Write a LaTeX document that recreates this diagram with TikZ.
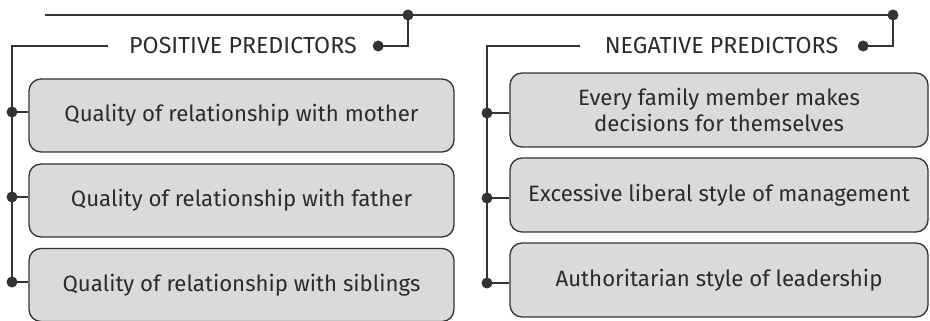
\documentclass[tikz,border=0pt]{standalone}
\usepackage{fontspec}
\setmainfont{Fira Sans}
\definecolor{linec}{HTML}{333333}
\definecolor{boxfill}{HTML}{D9DADC}
\definecolor{txt}{HTML}{2B2B2B}
\begin{document}
\begin{tikzpicture}[x=1pt,y=-1pt,
  conn/.style={draw=linec, line width=1.3pt},
  dotc/.style={circle, fill=linec, inner sep=0pt, minimum size=11pt},
  box/.style={draw=linec, fill=boxfill, rounded corners=12pt, line width=1.3pt,
    minimum height=73pt, align=center, text=txt, inner sep=0pt,
    font=\fontsize{22.2}{26}\selectfont},
  lbl/.style={text=txt, inner sep=0pt, font=\fontsize{23.2}{27}\selectfont}]
\useasboundingbox (0,0) rectangle (930,321);

% headings
\node[lbl, minimum width=270pt] (pos) at (243,46) {POSITIVE PREDICTORS};
\node[lbl, minimum width=283pt] (neg) at (721.5,46) {NEGATIVE PREDICTORS};

% top line
\coordinate (ts) at (45,15);
\node[dotc] (td1) at (408,15) {};
\node[dotc] (td2) at (893,15) {};
\node[dotc] (pd) at (pos.east) {};
\node[dotc] (nd) at (neg.east) {};

% boxes
\node[box, minimum width=425pt] (b1) at (241.5,115.5) {Quality of relationship with mother};
\node[box, minimum width=425pt] (b2) at (241.5,200.5) {Quality of relationship with father};
\node[box, minimum width=425pt] (b3) at (241.5,285) {Quality of relationship with siblings};
\node[box, minimum width=418pt, minimum height=74pt] (c1) at (719,110) {Every family member makes\\decisions for themselves};
\node[box, minimum width=418pt, minimum height=74pt] (c2) at (719,195) {Excessive liberal style of management};
\node[box, minimum width=418pt, minimum height=74pt] (c3) at (719,280) {Authoritarian style of leadership};

% branch dots
\node[dotc] (l1) at (12,112) {};
\node[dotc] (l2) at (12,197) {};
\node[dotc] (l3) at (12,282) {};
\node[dotc] (r1) at (487,113) {};
\node[dotc] (r2) at (487,198) {};
\node[dotc] (r3) at (487,283) {};

% connectors
\draw[conn] (ts) -- (td2.center);
\draw[conn] (td1.center) |- (pd.center);
\draw[conn] (td2.center) |- (nd.center);
\draw[conn] (pos.west) -| (l3.center);
\draw[conn] (neg.west) -| (r3.center);
\foreach \d/\b in {l1/b1,l2/b2,l3/b3,r1/c1,r2/c2,r3/c3}
  \draw[conn] (\d.center) -- (\d.center -| \b.west);
\end{tikzpicture}
\end{document}
